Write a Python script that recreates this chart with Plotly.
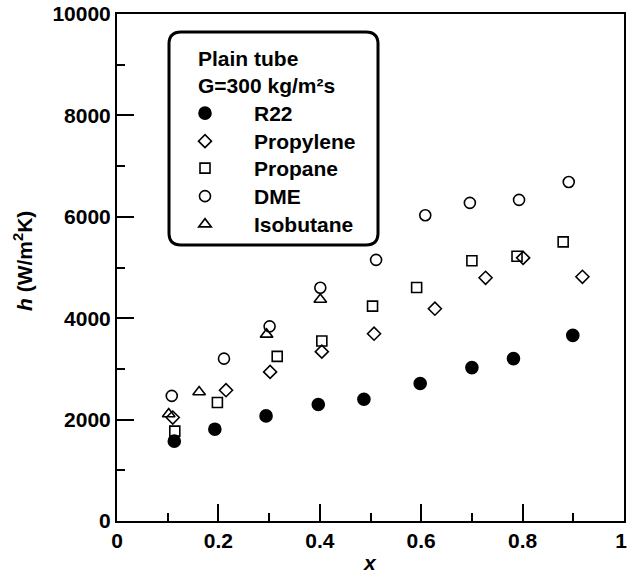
import plotly.graph_objects as go

r22_x = [0.113, 0.193, 0.294, 0.397, 0.487, 0.598, 0.700, 0.782, 0.899]
r22_y = [1575, 1811, 2073, 2297, 2401, 2711, 3026, 3203, 3661]

propylene_x = [0.110, 0.215, 0.302, 0.404, 0.507, 0.627, 0.727, 0.801, 0.918]
propylene_y = [2041, 2579, 2940, 3340, 3694, 4187, 4797, 5191, 4817]

propane_x = [0.114, 0.198, 0.316, 0.404, 0.504, 0.591, 0.700, 0.789, 0.880]
propane_y = [1772, 2336, 3248, 3550, 4238, 4606, 5132, 5223, 5506]

dme_x = [0.108, 0.211, 0.301, 0.401, 0.511, 0.608, 0.696, 0.793, 0.891]
dme_y = [2467, 3202, 3839, 4600, 5150, 6030, 6274, 6333, 6687]

isobutane_x = [0.102, 0.162, 0.295, 0.401]
isobutane_y = [2110, 2545, 3680, 4370]

x_ticks = [0, 0.2, 0.4, 0.6, 0.8, 1]
x_ticklabels = ["0", "0.2", "0.4", "0.6", "0.8", "1\u00a0"]
y_ticks = [0, 2000, 4000, 6000, 8000, 10000]
y_ticklabels = ["0", "2000", "4000", "6000", "8000", "10000"]

legend_title_lines = ["Plain tube", "G=300 kg/m²s"]

FONT = "Liberation Sans, Arial, Helvetica, sans-serif"
BOLD = dict(family=FONT, color="black", weight="bold")

W, H = 628, 574
L, R, T, B = 117, 4, 14, 53
PW, PH = W - L - R, H - T - B


def px_x(p):
    return (p - L) / PW


def px_y(p):
    return (H - B - p) / PH


fig = go.Figure()

series = [
    ("R22", r22_x, r22_y, "circle", 12),
    ("Propylene", propylene_x, propylene_y, "diamond-open", 10),
    ("Propane", propane_x, propane_y, "square-open", 10),
    ("DME", dme_x, dme_y, "circle-open", 11),
    ("Isobutane", isobutane_x, isobutane_y, "triangle-up-open", 11),
]
legend_rows = [114, 142, 169, 197, 225]  # row centres in px

layout_legends = {}
for i, (name, xs, ys, sym, size) in enumerate(series):
    lg = "legend" if i == 0 else f"legend{i+1}"
    fig.add_trace(go.Scatter(
        x=xs, y=ys, mode="markers", name=name, legend=lg,
        marker=dict(symbol=sym, size=size, color="black",
                    line=dict(width=1.6, color="black")),
    ))
    layout_legends[lg] = dict(
        x=px_x(156), y=px_y(legend_rows[i] - 21),
        xanchor="left", yanchor="top",
        bgcolor="rgba(0,0,0,0)", borderwidth=0,
        font=dict(size=21, **BOLD),
        itemwidth=88,
    )

fig.update_layout(
    width=W, height=H,
    margin=dict(l=L, r=R, t=T, b=B, autoexpand=False),
    plot_bgcolor="white", paper_bgcolor="white",
    font=dict(size=21, **BOLD),
    showlegend=True,
    xaxis=dict(
        range=[0, 1], automargin=False,
        tickvals=x_ticks, ticktext=x_ticklabels,
        tickfont=dict(size=21, **BOLD),
        ticklabeloverflow="allow",
        ticks="inside", ticklen=17, tickwidth=1.5, tickcolor="black",
        minor=dict(tickvals=[0.1, 0.3, 0.5, 0.7, 0.9], ticks="inside",
                   ticklen=8, tickwidth=1.5, tickcolor="black"),
        showline=True, linecolor="black", linewidth=2, mirror=True,
        showgrid=False, zeroline=False,
    ),
    yaxis=dict(
        range=[0, 10000], automargin=False,
        tickvals=y_ticks, ticktext=y_ticklabels,
        tickfont=dict(size=21, **BOLD),
        ticklabeloverflow="allow",
        ticks="inside", ticklen=17, tickwidth=1.5, tickcolor="black",
        minor=dict(tickvals=[1000, 3000, 5000, 7000, 9000], ticks="inside",
                   ticklen=8, tickwidth=1.5, tickcolor="black"),
        showline=True, linecolor="black", linewidth=2, mirror=True,
        showgrid=False, zeroline=False,
    ),
    **layout_legends,
)

# axis titles
fig.add_annotation(
    text="<i>h</i> (W/m<sup>2</sup>K)", xref="paper", yref="paper",
    x=px_x(23), y=px_y(261), xanchor="center", yanchor="middle",
    textangle=-90, showarrow=False, font=dict(size=21, **BOLD),
)
fig.add_annotation(
    text="<i>x</i>", xref="paper", yref="paper",
    x=px_x(370), y=px_y(562), xanchor="center", yanchor="middle",
    showarrow=False, font=dict(size=21, **BOLD),
)

# legend title lines
for i, line in enumerate(legend_title_lines):
    fig.add_annotation(
        text=line, xref="paper", yref="paper",
        x=px_x(196), y=px_y(58 + 28 * i),
        xanchor="left", yanchor="middle", showarrow=False,
        font=dict(size=21, **BOLD),
    )

# rounded legend frame
x0, x1 = px_x(169), px_x(378)
y0, y1 = px_y(245), px_y(32)
rx, ry = 12 / PW, 12 / PH
path = (f"M {x0+rx},{y1} L {x1-rx},{y1} Q {x1},{y1} {x1},{y1-ry} "
        f"L {x1},{y0+ry} Q {x1},{y0} {x1-rx},{y0} "
        f"L {x0+rx},{y0} Q {x0},{y0} {x0},{y0+ry} "
        f"L {x0},{y1-ry} Q {x0},{y1} {x0+rx},{y1} Z")
fig.add_shape(type="path", path=path, xref="paper", yref="paper",
              line=dict(color="black", width=3), fillcolor="rgba(0,0,0,0)")

fig.write_html("out.html")
